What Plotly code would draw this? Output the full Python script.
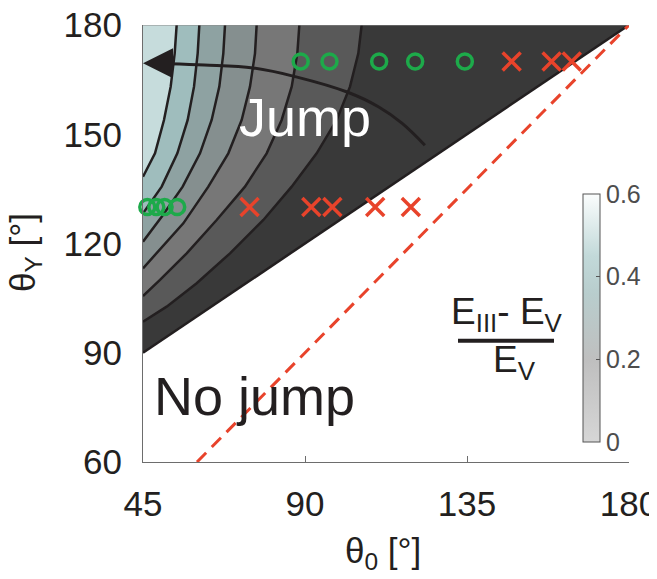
import plotly.graph_objects as go

FONT = "Liberation Sans, Arial, sans-serif"
INK = "#231f20"
RED = "#e8432b"
GREEN = "#1daa4a"

# ---------------- data ----------------
x_ticks = [45, 90, 135, 180]
y_ticks = [60, 90, 120, 150, 180]
x_range = [45, 180]
y_range = [60, 180]

# jump / no-jump boundary (lower edge of the shaded region)
boundary_theta0 = [45, 180]
boundary_thetaY = [90, 180]

# diagonal theta_Y = theta_0
diag_theta0 = [60, 180]
diag_thetaY = [60, 180]

# contour lines of (E_III - E_V)/E_V (light -> dark)
L1_theta0 = [54.35, 53.80, 52.69, 50.83, 48.33, 45.0]
L1_thetaY = [180.0, 172.22, 163.07, 153.92, 144.76, 138.36]
L2_theta0 = [60.65, 60.19, 59.17, 57.41, 54.54, 50.19, 45.0]
L2_thetaY = [180.0, 172.22, 163.07, 153.92, 144.76, 135.61, 128.29]
L3_theta0 = [67.78, 67.31, 66.20, 64.07, 60.83, 56.02, 50.19, 45.0]
L3_thetaY = [180.0, 172.22, 163.07, 153.92, 144.76, 135.61, 127.37, 120.51]
L4_theta0 = [76.57, 76.11, 74.72, 72.41, 68.70, 63.15, 56.20, 49.72, 45.0]
L4_thetaY = [180.0, 172.22, 163.07, 153.92, 144.76, 135.61, 125.54, 118.22, 113.19]
L5_theta0 = [88.43, 87.87, 86.30, 83.52, 79.35, 73.33, 65.46, 57.13, 49.72, 45.0]
L5_thetaY = [180.0, 172.22, 163.07, 153.92, 144.76, 135.61, 126.46, 117.30, 109.99, 105.59]
L6_theta0 = [105.74, 104.81, 102.50, 98.80, 93.24, 86.30, 78.43, 69.17, 59.91, 51.57, 45.0]
L6_thetaY = [180.0, 172.22, 163.07, 153.92, 144.76, 135.61, 126.46, 117.30, 109.07, 102.66, 98.54]

contour_theta0 = [L1_theta0, L2_theta0, L3_theta0, L4_theta0, L5_theta0, L6_theta0]
contour_thetaY = [L1_thetaY, L2_thetaY, L3_thetaY, L4_thetaY, L5_thetaY, L6_thetaY]
# fill colour of the band lying left of each contour line
band_colors = ["#c6dcdc", "#9fbdbd", "#8ea2a2", "#858f8f", "#777777", "#595959"]
region_color = "#393939"

# observed outcomes
jump_hi_theta0 = [88.8, 96.8, 110.6, 120.6, 134.4]
jump_hi_thetaY = [170, 170, 170, 170, 170]
nojump_hi_theta0 = [147.4, 158.5, 164.1]
nojump_hi_thetaY = [170, 170, 170]
jump_lo_theta0 = [46.2, 48.7, 51.0, 54.5]
jump_lo_thetaY = [130, 130, 130, 130]
nojump_lo_theta0 = [74.6, 91.75, 97.6, 109.5, 119.4]
nojump_lo_thetaY = [130, 130, 130, 130, 130]

# trajectory arrow
arrow_theta0 = [123.3, 117.0, 110.5, 101.7, 87.8, 75.6, 62.0, 50.6, 47.0]
arrow_thetaY = [147.0, 153.0, 157.5, 161.6, 165.7, 168.2, 169.0, 169.4, 169.5]

cbar_ticks = [0, 0.2, 0.4, 0.6]
cbar_scale = [[0.0, "#d6d6d6"], [0.33, "#bfbfbf"], [0.6, "#b8cdcd"],
              [0.75, "#c2d9d9"], [1.0, "#fbfdfd"]]

# ---------------- figure ----------------
# screen-pixel frame of the axes (page has an 8px body margin)
PX0, PX1, PY0, PY1 = 143, 629, 25, 462


def px(v):
    return (v - PX0) / (PX1 - PX0)


def py(v):
    return (PY1 - v) / (PY1 - PY0)


fig = go.Figure()

# shaded "jump" region
fig.add_trace(go.Scatter(
    x=boundary_theta0 + [boundary_theta0[0]],
    y=boundary_thetaY + [boundary_thetaY[-1]],
    fill="toself", fillcolor=region_color, mode="lines",
    line=dict(width=0), hoverinfo="skip", showlegend=False))

# bands (drawn dark to light, each covering region left of its contour)
for xs, ys, col in reversed(list(zip(contour_theta0, contour_thetaY, band_colors))):
    fig.add_trace(go.Scatter(
        x=xs + [x_range[0], xs[0]], y=ys + [y_range[1], ys[0]],
        fill="toself", fillcolor=col, mode="lines", line=dict(width=0),
        hoverinfo="skip", showlegend=False))

# contour lines
for xs, ys in zip(contour_theta0, contour_thetaY):
    fig.add_trace(go.Scatter(x=xs, y=ys, mode="lines",
                             line=dict(color=INK, width=2.5),
                             hoverinfo="skip", showlegend=False))

# boundary line
fig.add_trace(go.Scatter(x=boundary_theta0, y=boundary_thetaY, mode="lines",
                         line=dict(color=INK, width=2.5), showlegend=False))

# diagonal dashed line
fig.add_trace(go.Scatter(x=diag_theta0, y=diag_thetaY, mode="lines",
                         line=dict(color=RED, width=3, dash="13px,8px"),
                         showlegend=False))

# arrow curve
fig.add_trace(go.Scatter(x=arrow_theta0, y=arrow_thetaY, mode="lines",
                         line=dict(color=INK, width=3, shape="spline"),
                         showlegend=False))

# markers
circ = dict(symbol="circle-open", size=15, color=GREEN, line=dict(width=3.5, color=GREEN))
cross = dict(symbol="x-thin-open", size=18, color=RED, line=dict(width=3.5, color=RED))
for xs, ys, mk in [(jump_hi_theta0, jump_hi_thetaY, circ),
                   (jump_lo_theta0, jump_lo_thetaY, circ),
                   (nojump_hi_theta0, nojump_hi_thetaY, cross),
                   (nojump_lo_theta0, nojump_lo_thetaY, cross)]:
    fig.add_trace(go.Scatter(x=xs, y=ys, mode="markers", marker=mk,
                             cliponaxis=False, showlegend=False))

# colour bar
fig.add_trace(go.Scatter(
    x=[None], y=[None], mode="markers", showlegend=False, hoverinfo="skip",
    marker=dict(color=[0], cmin=cbar_ticks[0], cmax=cbar_ticks[-1], colorscale=cbar_scale,
                showscale=True,
                colorbar=dict(x=px(583), xanchor="left", xpad=0, ypad=0,
                              y=py(318), yanchor="middle",
                              lenmode="pixels", len=248, thickness=17,
                              outlinecolor="#555555", outlinewidth=1,
                              tickvals=cbar_ticks, ticks="inside", ticklen=4,
                              tickcolor="#555555",
                              tickfont=dict(family=FONT, size=25, color="#4d4d4d")))))

# arrowhead
fig.add_annotation(x=45, y=arrow_thetaY[-1], ax=49, ay=arrow_thetaY[-1], axref="x", ayref="y",
                   xref="x", yref="y", text="", showarrow=True, arrowhead=2,
                   arrowsize=2.0, arrowwidth=3, arrowcolor=INK)

# region labels
fig.add_annotation(xref="paper", yref="paper", x=px(305), y=py(117), text="Jump",
                   showarrow=False, xanchor="center", yanchor="middle",
                   font=dict(family=FONT, size=54, color="white"))
fig.add_annotation(xref="paper", yref="paper", x=px(254), y=py(396), text="No jump",
                   showarrow=False, xanchor="center", yanchor="middle",
                   font=dict(family=FONT, size=54, color=INK))

# colourbar label (fraction)
fig.add_annotation(xref="paper", yref="paper", x=px(507), y=py(314),
                   text="E<sub>III</sub>- E<sub>V</sub>", showarrow=False,
                   xanchor="center", yanchor="middle",
                   font=dict(family=FONT, size=37, color=INK))
fig.add_annotation(xref="paper", yref="paper", x=px(514), y=py(362),
                   text="E<sub>V</sub>", showarrow=False,
                   xanchor="center", yanchor="middle",
                   font=dict(family=FONT, size=37, color=INK))
fig.add_shape(type="line", xref="paper", yref="paper",
              x0=px(458), x1=px(554), y0=py(340.7), y1=py(340.7),
              line=dict(color=INK, width=4))

# axis titles
fig.add_annotation(xref="paper", yref="paper", x=px(383), y=py(553),
                   text="θ<sub>0</sub> [°]", showarrow=False,
                   xanchor="center", yanchor="middle",
                   font=dict(family=FONT, size=35, color=INK))
fig.add_annotation(xref="paper", yref="paper", x=px(25), y=py(253),
                   text="θ<sub>Y</sub> [°]", showarrow=False, textangle=-90,
                   xanchor="center", yanchor="middle",
                   font=dict(family=FONT, size=35, color=INK))

# top edge line
fig.add_shape(type="line", xref="x", yref="y", x0=x_range[0], x1=x_range[1],
              y0=y_range[1], y1=y_range[1], line=dict(color="#8a8a8a", width=1))

fig.update_layout(
    width=657, height=579,
    margin=dict(l=PX0 - 8, r=657 - (PX1 - 8), t=PY0 - 8, b=579 - (PY1 - 8),
                autoexpand=False),
    paper_bgcolor="white", plot_bgcolor="white",
    showlegend=False,
    xaxis=dict(range=x_range, tickvals=x_ticks, showline=True, linecolor="#6d6d6d",
               linewidth=1, ticks="inside", ticklen=6, tickcolor="#6d6d6d",
               showgrid=False, zeroline=False, ticklabelstandoff=11,
               ticklabeloverflow="allow",
               tickfont=dict(family=FONT, size=35, color=INK)),
    yaxis=dict(range=y_range, tickvals=y_ticks, showline=True, linecolor="#6d6d6d",
               linewidth=1, ticks="", showgrid=False, zeroline=False,
               ticklabelstandoff=13, ticklabeloverflow="allow",
               tickfont=dict(family=FONT, size=35, color=INK)),
)

fig.write_html("out.html")
